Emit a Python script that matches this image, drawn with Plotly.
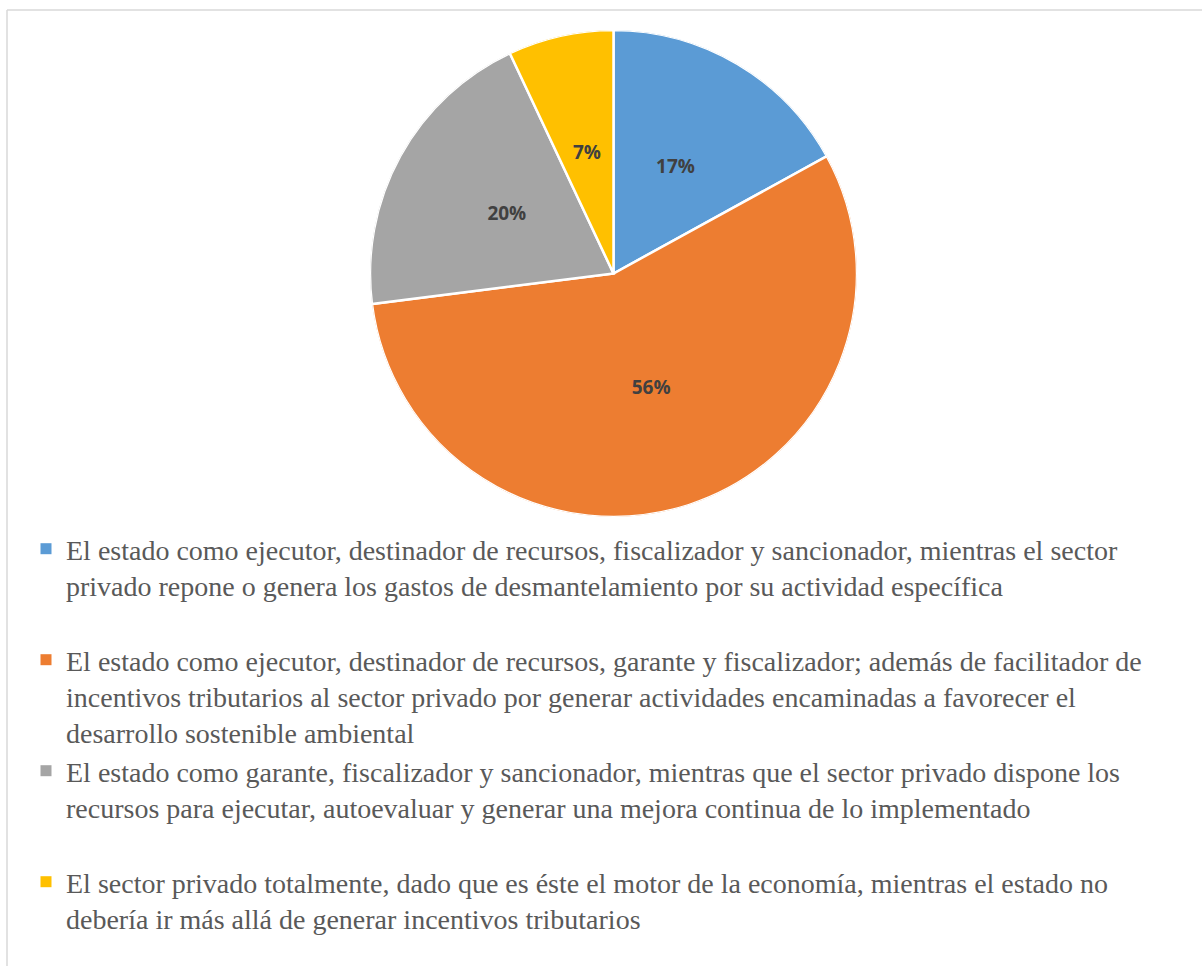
import plotly.graph_objects as go

# Survey answers and their shares (%)
categories = [
    "El estado como ejecutor, destinador de recursos, fiscalizador y sancionador, mientras el sector<br>privado repone o genera los gastos de desmantelamiento por su actividad específica",
    "El estado como ejecutor, destinador de recursos, garante y fiscalizador; además de facilitador de<br>incentivos tributarios al sector privado por generar actividades encaminadas a favorecer el<br>desarrollo sostenible ambiental",
    "El estado como garante, fiscalizador y sancionador, mientras que el sector privado dispone los<br>recursos para ejecutar, autoevaluar y generar una mejora continua de lo implementado",
    "El sector privado totalmente, dado que es éste el motor de la economía, mientras el estado no<br>debería ir más allá de generar incentivos tributarios",
]
shares = [17, 56, 20, 7]
colors = ["#5B9BD5", "#ED7D31", "#A5A5A5", "#FFC000"]

W, H = 1202, 966
pie_domain = dict(x=[370 / W, 857 / W], y=[1 - 517 / H, 1 - 30 / H])

# Slice geometry: clockwise from 12 o'clock, each wedge spanning its share of 360°
total = sum(shares)
spans = [s / total * 360 for s in shares]
mid_angles = []
acc = 0
for sp in spans:
    mid_angles.append(acc + sp / 2)
    acc += sp
pct_text = [f"{round(s / total * 100)}%" for s in shares]

fig = go.Figure()

# Pie slices as full-radius wedges on a polar axis
fig.add_trace(go.Barpolar(
    r=[1] * len(shares),
    theta=mid_angles,
    width=spans,
    marker=dict(color=colors, line=dict(color="white", width=2.5)),
    customdata=pct_text,
    hovertemplate="%{customdata}<extra></extra>",
    showlegend=False,
))

# Percentage labels halfway out along each slice's middle angle
fig.add_trace(go.Scatterpolar(
    r=[0.5] * len(shares),
    theta=mid_angles,
    mode="text",
    text=pct_text,
    textfont=dict(family="Open Sans", size=19, color="#404040", weight="bold"),
    textposition="middle center",
    showlegend=False,
    hoverinfo="skip",
))

# One legend box per answer, stacked with even spacing below the pie
legend_tops = [524, 635, 746, 857]
legend_font = dict(family="Liberation Serif", size=28, color="#595959")
layout_legends = {}
for i, (name, col) in enumerate(zip(categories, colors)):
    key = "legend" if i == 0 else f"legend{i + 1}"
    fig.add_trace(go.Scatter(
        x=[None], y=[None], mode="markers", name=name,
        marker=dict(symbol="square", size=11, color=col),
        legend=key, hoverinfo="skip",
    ))
    layout_legends[key] = dict(
        x=26 / W, xanchor="left",
        y=1 - legend_tops[i] / H, yanchor="top",
        font=legend_font, valign="top",
        bgcolor="rgba(0,0,0,0)", itemclick=False, itemdoubleclick=False,
    )

fig.update_layout(
    width=W, height=H,
    margin=dict(l=0, r=0, t=0, b=0),
    paper_bgcolor="white",
    plot_bgcolor="white",
    xaxis=dict(visible=False),
    yaxis=dict(visible=False),
    polar=dict(
        domain=pie_domain,
        bgcolor="rgba(0,0,0,0)",
        bargap=0,
        radialaxis=dict(visible=False, range=[0, 1]),
        angularaxis=dict(visible=False, rotation=90, direction="clockwise"),
    ),
    shapes=[
        dict(type="line", xref="paper", yref="paper",
             x0=7 / W, x1=1.0, y0=1 - 10 / H, y1=1 - 10 / H,
             line=dict(color="#D9D9D9", width=1.5)),
        dict(type="line", xref="paper", yref="paper",
             x0=7 / W, x1=7 / W, y0=0, y1=1 - 10 / H,
             line=dict(color="#D9D9D9", width=1.5)),
    ],
    **layout_legends,
)

fig.write_html("out.html")
